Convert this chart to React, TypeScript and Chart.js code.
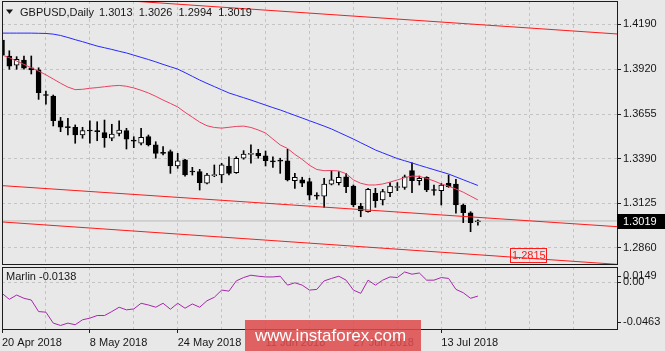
import React, { useEffect, useRef } from "react";
import { Chart, registerables } from "chart.js";

Chart.register(...registerables);

// ---------- data ----------
const symbolTitle = "GBPUSD,Daily";
const marlinName = "Marlin";
const watermarkText = "www.instaforex.com";

const xTickLabels = ["20 Apr 2018", "8 May 2018", "24 May 2018", "11 Jun 2018", "27 Jun 2018", "13 Jul 2018"];
const priceTicks = [1.286, 1.3125, 1.339, 1.3655, 1.392, 1.419];
const marlinTicks = [0.0149, 0, -0.0463];

const opens = [
  1.4095, 1.4, 1.3946, 1.3976, 1.393, 1.3917, 1.3771, 1.3762, 1.3615, 1.3578,
  1.3576, 1.353, 1.3556, 1.3554, 1.3544, 1.3511, 1.354, 1.3556, 1.35, 1.3481,
  1.352, 1.3471, 1.3425, 1.3431, 1.3346, 1.3382, 1.3314, 1.3312, 1.3243, 1.3289,
  1.3292, 1.3346, 1.3306, 1.3392, 1.3415, 1.3421, 1.3407, 1.3374, 1.3378, 1.3376,
  1.3258, 1.3263, 1.3253, 1.3172, 1.3167, 1.3237, 1.3247, 1.3282, 1.3227, 1.3108,
  1.3074, 1.3184, 1.3144, 1.3187, 1.3218, 1.3219, 1.3318, 1.3258, 1.3279, 1.3203,
  1.3199, 1.3243, 1.3239, 1.3114, 1.3068, 1.3013,
];
const highs = [
  1.4107, 1.4031, 1.3996, 1.4, 1.4, 1.393, 1.3792, 1.3768, 1.3635, 1.3629,
  1.359, 1.3576, 1.3615, 1.3609, 1.3619, 1.3594, 1.3615, 1.357, 1.352, 1.357,
  1.353, 1.349, 1.3461, 1.3441, 1.3421, 1.3386, 1.3338, 1.3326, 1.3302, 1.3352,
  1.3362, 1.3401, 1.3401, 1.3437, 1.3471, 1.3445, 1.3435, 1.3401, 1.3392, 1.3445,
  1.3302, 1.3279, 1.3273, 1.3187, 1.3273, 1.3318, 1.3312, 1.3302, 1.3233, 1.3124,
  1.3213, 1.3213, 1.3207, 1.3247, 1.3247, 1.3292, 1.3365, 1.3286, 1.3282, 1.3233,
  1.3243, 1.3292, 1.3267, 1.312, 1.3074, 1.3026,
];
const lows = [
  1.3994, 1.3921, 1.3921, 1.3921, 1.3893, 1.3742, 1.3714, 1.3584, 1.355, 1.353,
  1.3481, 1.3511, 1.3481, 1.3496, 1.3457, 1.3496, 1.3524, 1.3447, 1.3455, 1.3471,
  1.3465, 1.3392, 1.3411, 1.3302, 1.3332, 1.3286, 1.3292, 1.3203, 1.3239, 1.3282,
  1.3247, 1.3292, 1.3302, 1.3386, 1.3362, 1.3392, 1.3346, 1.3338, 1.3302, 1.3257,
  1.3213, 1.3223, 1.3144, 1.3148, 1.31, 1.3233, 1.3233, 1.3187, 1.3104, 1.3044,
  1.3071, 1.31, 1.3114, 1.3163, 1.3199, 1.3207, 1.3187, 1.3233, 1.3193, 1.3173,
  1.3114, 1.3219, 1.3065, 1.3009, 1.2955, 1.2994,
];
const closes = [
  1.4006, 1.394, 1.398, 1.3927, 1.3917, 1.3782, 1.3765, 1.3615, 1.3576, 1.3574,
  1.353, 1.3556, 1.3554, 1.355, 1.3514, 1.3536, 1.356, 1.3505, 1.3494, 1.3516,
  1.3471, 1.3421, 1.3421, 1.3346, 1.3377, 1.3292, 1.331, 1.3247, 1.3292, 1.3294,
  1.3352, 1.3302, 1.3392, 1.3417, 1.3419, 1.3405, 1.3377, 1.337, 1.3375, 1.3263,
  1.3279, 1.3243, 1.3173, 1.3167, 1.3239, 1.3263, 1.3279, 1.3223, 1.3114, 1.3078,
  1.3207, 1.314, 1.3193, 1.3227, 1.3221, 1.3282, 1.3258, 1.3273, 1.3203, 1.32,
  1.3233, 1.3223, 1.3114, 1.3068, 1.3009, 1.3019,
];

const maBlue = [
  1.4136, 1.4136, 1.4136, 1.4136, 1.4136, 1.4135, 1.4134, 1.413, 1.4122, 1.411,
  1.4097, 1.4085, 1.4072, 1.4059, 1.4049, 1.4039, 1.4028, 1.4018, 1.4005, 1.3992,
  1.3979, 1.3965, 1.395, 1.3936, 1.3922, 1.3901, 1.3879, 1.3857, 1.3837, 1.3818,
  1.3799, 1.378, 1.3766, 1.3752, 1.3738, 1.3723, 1.3708, 1.3693, 1.3679, 1.3663,
  1.3647, 1.3631, 1.3615, 1.3599, 1.3583, 1.3566, 1.3546, 1.3526, 1.3506, 1.3484,
  1.3463, 1.3441, 1.3424, 1.3407, 1.339, 1.3377, 1.3364, 1.335, 1.3337, 1.3324,
  1.3311, 1.3298, 1.3281, 1.3264, 1.3247, 1.323,
];
const maRed = [
  1.4006, 1.399, 1.397, 1.395, 1.393, 1.391, 1.3888, 1.3863, 1.3838, 1.3815,
  1.38, 1.3802, 1.3808, 1.3812, 1.3817, 1.3822, 1.3825, 1.382, 1.381, 1.3796,
  1.378, 1.376, 1.3738, 1.3718, 1.3697, 1.3665, 1.3636, 1.3607, 1.3585, 1.3575,
  1.3571, 1.3576, 1.3581, 1.3583, 1.3575, 1.356, 1.3542, 1.3506, 1.3471, 1.345,
  1.3415, 1.3385, 1.335, 1.3325, 1.3318, 1.3319, 1.3316, 1.33, 1.3263, 1.3243,
  1.3233, 1.3233, 1.3239, 1.325, 1.3263, 1.3276, 1.3286, 1.3284, 1.3272, 1.3257,
  1.3239, 1.3226, 1.3209, 1.319, 1.3167, 1.3144,
];
const marlin = [
  -0.0111, -0.017, -0.0128, -0.016, -0.0177, -0.0291, -0.0297, -0.0405, -0.0428, -0.0405,
  -0.0421, -0.0372, -0.0356, -0.033, -0.033, -0.0291, -0.0248, -0.0274, -0.0265, -0.0209,
  -0.0226, -0.0248, -0.0209, -0.0268, -0.0209, -0.0258, -0.0216, -0.0248, -0.0184, -0.015,
  -0.0079, -0.0089, 0.0012, 0.0045, 0.0068, 0.0058, 0.0051, 0.0051, 0.0058, -0.003,
  -0.0007, -0.003, -0.0079, -0.0072, 0.0012, 0.0036, 0.0058, 0.0019, -0.0079, -0.0111,
  0.0019, -0.003, 0.0019, 0.0051, 0.0045, 0.01, 0.0078, 0.009, 0.0019, 0.0019,
  0.0045, 0.0036, -0.0072, -0.0105, -0.016, -0.0138,
];

// trend channel: [value at first slot, value at last slot]
const channelTop = [1.4379, 1.4131];
const channelMid = [1.3229, 1.2985];
const channelLow = [1.3013, 1.2761];
const channelLabelValue = 1.2815;

// ---------- style / layout ----------
const FONT = '"Liberation Sans", Arial, Helvetica, sans-serif';
const BG = "#e8e8e8";
const GRID = "#c4c4c4";
const TEXT = "#161616";
const BORDER = "#1c1c1c";
const CHANNEL = "#ff1a1a";
const MA_RED = "rgb(235,64,96)";
const MA_BLUE = "rgb(40,40,255)";
const MARLIN_C = "rgb(165,40,170)";
const SLOTS = 84; // visible bar slots on the x axis
const AXIS_W = 48;

const noPad = (s: any) => {
  s.paddingTop = 0;
  s.paddingBottom = 0;
  s.paddingLeft = 0;
  s.paddingRight = 0;
};

const xTickValues = () => {
  const t: { value: number }[] = [];
  for (let v = 0; v <= SLOTS; v += 6) t.push({ value: v });
  return t;
};

function xScale(showLabels: boolean) {
  return {
    type: "linear",
    min: 0,
    max: SLOTS,
    offset: false,
    afterBuildTicks: (s: any) => {
      s.ticks = xTickValues();
    },
    afterFit: (s: any) => {
      s.height = showLabels ? 22 : 0;
      noPad(s);
    },
    grid: {
      color: GRID,
      offset: false,
      drawTicks: showLabels,
      tickLength: 4,
      tickBorderDash: [],
      tickColor: (c: any) =>
        c.tick && c.tick.value % 12 === 0 && c.tick.value / 12 < xTickLabels.length ? BORDER : "rgba(0,0,0,0)",
    },
    border: { display: false, dash: [3, 3] },
    ticks: {
      display: showLabels,
      autoSkip: false,
      maxRotation: 0,
      minRotation: 0,
      align: "start",
      padding: 3,
      color: TEXT,
      font: { family: FONT, size: 11 },
      callback: (v: any) => {
        const n = Number(v);
        return n % 12 === 0 && n / 12 < xTickLabels.length ? xTickLabels[n / 12] : "";
      },
    },
  };
}

const mainOverlay = {
  id: "mainOverlay",
  afterDraw(chart: any) {
    const { ctx, chartArea: a, scales } = chart;
    const ys = scales.y;
    const xs = scales.x;
    const last = closes.length - 1;
    ctx.save();
    ctx.lineWidth = 1;
    ctx.strokeStyle = BORDER;
    ctx.strokeRect(Math.round(a.left) + 0.5, Math.round(a.top) + 0.5, Math.round(a.right - a.left), Math.round(a.bottom - a.top));

    // title
    ctx.fillStyle = TEXT;
    ctx.beginPath();
    ctx.moveTo(a.left + 4, a.top + 8.5);
    ctx.lineTo(a.left + 11, a.top + 8.5);
    ctx.lineTo(a.left + 7.5, a.top + 13);
    ctx.closePath();
    ctx.fill();
    ctx.font = `11px ${FONT}`;
    ctx.textAlign = "left";
    ctx.textBaseline = "alphabetic";
    ctx.fillText(symbolTitle, a.left + 18, a.top + 15);
    const tw = ctx.measureText(symbolTitle).width;
    const ohlc = [opens[last], highs[last], lows[last], closes[last]].map((v) => v.toFixed(4)).join("  ");
    ctx.fillText(ohlc, a.left + 18 + tw + 5, a.top + 15);

    // current price marker
    const py = Math.round(ys.getPixelForValue(closes[last]));
    ctx.fillStyle = "#000";
    ctx.fillRect(a.right, py - 7, chart.width - a.right, 15);
    ctx.fillStyle = "#fff";
    ctx.textBaseline = "middle";
    ctx.fillText(closes[last].toFixed(4), a.right + 6, py + 1);

    // channel price label
    const lx = Math.round(xs.getPixelForValue(69.4)) + 0.5;
    const ly = Math.round(ys.getPixelForValue(channelLabelValue));
    ctx.strokeStyle = CHANNEL;
    ctx.strokeRect(lx, ly - 7 + 0.5, 36, 14);
    ctx.fillStyle = CHANNEL;
    ctx.fillText(channelLabelValue.toFixed(4), lx + 1.5, ly + 1);
    ctx.restore();
  },
};

const subOverlay = {
  id: "subOverlay",
  afterDraw(chart: any) {
    const { ctx, chartArea: a, scales } = chart;
    const ys = scales.y;
    const last = marlin.length - 1;
    ctx.save();
    ctx.lineWidth = 1;
    ctx.strokeStyle = BORDER;
    ctx.strokeRect(Math.round(a.left) + 0.5, Math.round(a.top) + 0.5, Math.round(a.right - a.left), Math.round(a.bottom - a.top));
    ctx.font = `11px ${FONT}`;
    ctx.fillStyle = TEXT;
    ctx.textAlign = "left";
    ctx.textBaseline = "middle";
    ctx.fillText(`${marlinName} ${marlin[last].toFixed(4)}`, a.left + 4, a.top + 10);
    for (const v of marlinTicks) {
      let y = ys.getPixelForValue(v);
      y = Math.min(Math.max(y, a.top + 8.5), a.bottom - 7);
      const label = v === 0 ? "0.00" : v.toFixed(4);
      ctx.beginPath();
      ctx.moveTo(a.right, Math.round(y) + 0.5);
      ctx.lineTo(a.right + 4, Math.round(y) + 0.5);
      ctx.strokeStyle = BORDER;
      ctx.stroke();
      ctx.fillText(label, a.right + 6, y);
    }
    ctx.restore();
  },
};

function mainConfig(): any {
  const idx = closes.map((_, i) => i);
  const up = closes.map((c, i) => c >= opens[i]);
  const line = (vals: number[]) => vals.map((v, i) => ({ x: i, y: v }));
  const chan = (pair: number[]) => [
    { x: 0, y: pair[0] },
    { x: SLOTS, y: pair[1] },
  ];
  return {
    type: "bar",
    data: {
      datasets: [
        {
          type: "line",
          label: "bid",
          data: [
            { x: 0, y: closes[closes.length - 1] },
            { x: SLOTS, y: closes[closes.length - 1] },
          ],
          borderColor: "#b9b9b9",
          borderWidth: 1,
          pointRadius: 0,
          order: 9,
        },
        {
          type: "bar",
          label: "wicks",
          data: idx.map((i) => ({ x: i, y: [lows[i], highs[i]] })),
          backgroundColor: "#000",
          borderWidth: 0,
          barThickness: 1,
          grouped: false,
          minBarLength: 1,
          order: 8,
        },
        {
          type: "bar",
          label: "bodies",
          data: idx.map((i) => ({ x: i, y: [opens[i], closes[i]] })),
          backgroundColor: up.map((u) => (u ? "#ffffff" : "#000000")),
          borderColor: "#000",
          borderWidth: 1,
          borderSkipped: false,
          barThickness: 5,
          grouped: false,
          minBarLength: 1,
          order: 7,
        },
        {
          type: "line",
          label: "MA slow",
          data: line(maBlue),
          borderColor: MA_BLUE,
          borderWidth: 1,
          pointRadius: 0,
          order: 4,
        },
        {
          type: "line",
          label: "MA fast",
          data: line(maRed),
          borderColor: MA_RED,
          borderWidth: 1,
          pointRadius: 0,
          order: 3,
        },
        { type: "line", label: "ch1", data: chan(channelTop), borderColor: CHANNEL, borderWidth: 1, pointRadius: 0, order: 1 },
        { type: "line", label: "ch2", data: chan(channelMid), borderColor: CHANNEL, borderWidth: 1, pointRadius: 0, order: 1 },
        { type: "line", label: "ch3", data: chan(channelLow), borderColor: CHANNEL, borderWidth: 1, pointRadius: 0, order: 1 },
      ],
    },
    options: {
      animation: false,
      responsive: false,
      devicePixelRatio: 1,
      layout: { padding: { left: 2, top: 1, right: 0, bottom: 1 } },
      plugins: { legend: { display: false }, tooltip: { enabled: false } },
      scales: {
        x: xScale(false),
        y: {
          type: "linear",
          position: "right",
          min: 1.2763,
          max: 1.4327,
          afterBuildTicks: (s: any) => {
            s.ticks = priceTicks.map((v) => ({ value: v }));
          },
          afterFit: (s: any) => {
            s.width = AXIS_W;
            noPad(s);
          },
          grid: { color: GRID, drawTicks: true, tickLength: 4, tickColor: BORDER, tickBorderDash: [] },
          border: { display: false, dash: [3, 3] },
          ticks: {
            padding: 2,
            color: TEXT,
            font: { family: FONT, size: 11 },
            callback: (v: any) => Number(v).toFixed(4),
          },
        },
      },
    },
    plugins: [mainOverlay],
  };
}

function subConfig(): any {
  return {
    type: "line",
    data: {
      datasets: [
        {
          label: marlinName,
          data: marlin.map((v, i) => ({ x: i, y: v })),
          borderColor: MARLIN_C,
          borderWidth: 1,
          pointRadius: 0,
        },
      ],
    },
    options: {
      animation: false,
      responsive: false,
      devicePixelRatio: 1,
      layout: { padding: { left: 2, top: 2, right: 0, bottom: 0 } },
      plugins: { legend: { display: false }, tooltip: { enabled: false } },
      scales: {
        x: xScale(true),
        y: {
          type: "linear",
          position: "right",
          min: -0.0463,
          max: 0.0149,
          afterBuildTicks: (s: any) => {
            s.ticks = marlinTicks.map((v) => ({ value: v }));
          },
          afterFit: (s: any) => {
            s.width = AXIS_W;
            noPad(s);
          },
          grid: {
            drawTicks: false,
            color: (c: any) => (c.tick && c.tick.value === 0 ? GRID : "rgba(0,0,0,0)"),
          },
          border: { display: false, dash: [3, 3] },
          ticks: { display: false },
        },
      },
    },
    plugins: [subOverlay],
  };
}

export default function App() {
  const mainRef = useRef<HTMLCanvasElement | null>(null);
  const subRef = useRef<HTMLCanvasElement | null>(null);

  useEffect(() => {
    Chart.defaults.font.family = FONT;
    const c1 = new Chart(mainRef.current as HTMLCanvasElement, mainConfig());
    const c2 = new Chart(subRef.current as HTMLCanvasElement, subConfig());
    return () => {
      c1.destroy();
      c2.destroy();
    };
  }, []);

  return (
    <div
      style={{
        position: "fixed",
        left: 0,
        top: 0,
        width: 665,
        height: 351,
        background: BG,
        overflow: "hidden",
      }}
    >
      <canvas ref={mainRef} width={665} height={265} style={{ position: "absolute", left: 0, top: 0 }} />
      <canvas ref={subRef} width={665} height={86} style={{ position: "absolute", left: 0, top: 265 }} />
      <div
        style={{
          position: "absolute",
          left: 245,
          top: 320,
          width: 176,
          height: 31,
          boxSizing: "border-box",
          paddingLeft: 10,
          background: "rgba(222,74,74,0.86)",
          color: "#ffffff",
          fontFamily: FONT,
          fontSize: 17,
          lineHeight: "31px",
          whiteSpace: "nowrap",
        }}
      >
        {watermarkText}
      </div>
    </div>
  );
}
